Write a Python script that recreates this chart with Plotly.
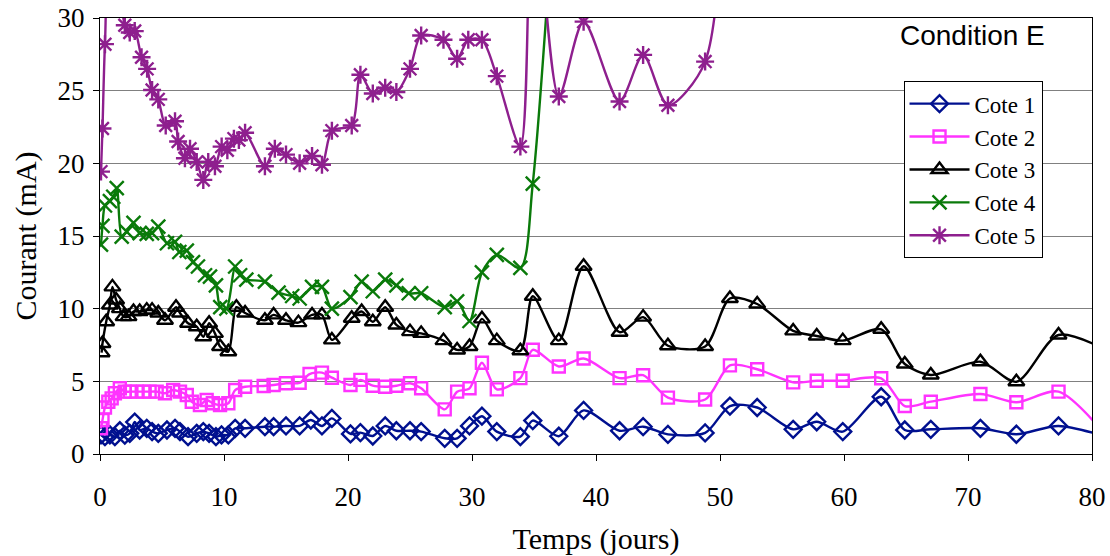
import plotly.graph_objects as go

# ---- Data ----
x_c1 = [0.08, 0.4, 0.8, 1.2, 1.6, 2.0, 2.4, 2.8, 3.2, 3.77, 4.2, 4.7, 5.4, 6.05, 6.45, 7.1, 7.8, 8.33, 8.8, 9.35, 9.8, 10.35, 10.9, 11.7,
        13.3, 14.0, 15.0, 16.1, 17.0, 17.9, 18.7, 20.2, 21.0, 22.0, 23.0, 23.9, 25.0, 25.9, 27.8, 28.8, 29.8, 30.8, 32.0,
        33.9, 34.9, 37.0, 39.0, 41.9, 43.8, 45.8, 48.8, 50.8, 53.0, 55.9, 57.8, 59.9, 63.0, 64.9, 67.0, 71.0, 73.9, 77.3, 81.5]
y_c1 = [1.31, 1.19, 1.31, 1.19, 1.6, 1.3, 1.42, 2.2, 1.65, 1.77, 1.54, 1.42, 1.65, 1.77, 1.54, 1.19, 1.42, 1.54, 1.42, 1.19, 1.31, 1.31, 1.77, 1.77,
        1.88, 1.88, 1.93, 1.93, 2.34, 1.93, 2.45, 1.38, 1.47, 1.24, 1.93, 1.6, 1.6, 1.54, 1.08, 1.08, 1.93, 2.6, 1.54,
        1.2, 2.3, 1.22, 3.0, 1.6, 1.88, 1.35, 1.45, 3.3, 3.2, 1.7, 2.22, 1.54, 3.94, 1.65, 1.7, 1.77, 1.36, 1.93, 1.1]

x_c2 = [0.08, 0.2, 0.4, 0.67, 0.94, 1.2, 1.6, 2.0, 2.4, 2.96, 3.5, 4.0, 4.57, 5.24, 5.9, 6.45, 7.0, 7.4, 8.06, 8.6, 9.1, 9.68, 10.35, 10.9, 11.7,
        13.2, 14.0, 15.0, 16.1, 16.9, 17.9, 18.7, 20.2, 21.0, 22.0, 23.0, 23.9, 25.0, 25.9, 27.8, 28.8, 29.8, 30.8, 32.0,
        33.9, 34.9, 37.0, 39.0, 41.9, 43.8, 45.8, 48.8, 50.8, 53.0, 55.9, 57.8, 59.9, 63.0, 64.9, 67.0, 71.0, 73.9, 77.3, 81.5]
y_c2 = [1.77, 2.34, 3.2, 3.6, 3.83, 4.18, 4.52, 4.29, 4.29, 4.29, 4.29, 4.29, 4.29, 4.18, 4.4, 4.29, 4.06, 3.6, 3.37, 3.72, 3.49, 3.37, 3.49, 4.4, 4.63,
        4.68, 4.75, 4.87, 4.9, 5.5, 5.6, 5.25, 4.75, 5.1, 4.7, 4.63, 4.7, 4.87, 4.52, 3.07, 4.29, 4.52, 6.28, 4.45,
        5.22, 7.17, 6.02, 6.57, 5.22, 5.42, 3.88, 3.75, 6.1, 5.83, 4.93, 5.04, 5.04, 5.21, 3.3, 3.6, 4.13, 3.56, 4.29, 0.9]

x_c3 = [0.13, 0.2, 0.5, 0.8, 1.0, 1.3, 1.6, 1.9, 2.3, 2.7, 3.2, 3.77, 4.2, 4.7, 5.24, 6.13, 6.45, 7.1, 7.8, 8.33, 8.8, 9.27, 9.68, 10.35, 11.0, 11.7,
        13.3, 14.0, 15.0, 16.0, 17.1, 17.9, 18.7, 20.3, 21.1, 22.0, 23.0, 23.9, 25.0, 25.9, 27.7, 28.8, 29.8, 30.8, 32.0,
        33.9, 34.9, 37.0, 39.0, 41.9, 43.8, 45.8, 48.8, 50.8, 53.0, 55.9, 57.8, 59.9, 63.0, 64.9, 67.0, 71.0, 73.9, 77.3, 81.5]
y_c3 = [6.97, 7.6, 9.1, 10.25, 11.5, 10.6, 10.0, 9.45, 9.45, 9.8, 9.8, 9.9, 9.9, 9.7, 9.2, 10.1, 9.7, 9.0, 8.76, 8.07, 9.0, 8.3, 7.4, 7.04, 10.1, 9.7,
        9.2, 9.57, 9.2, 9.04, 9.57, 9.57, 7.85, 9.34, 9.8, 9.1, 10.1, 8.88, 8.42, 8.3, 7.8, 7.16, 7.4, 9.3, 7.8,
        7.1, 10.85, 7.8, 12.92, 8.38, 9.42, 7.45, 7.4, 10.7, 10.32, 8.47, 8.12, 7.8, 8.58, 6.19, 5.44, 6.35, 4.97, 8.19, 7.0]

x_c4 = [0.08, 0.2, 0.4, 0.8, 1.07, 1.35, 1.75, 2.15, 2.7, 3.2, 3.77, 4.2, 4.7, 5.4, 6.05, 6.4, 7.0, 7.5, 7.9, 8.47, 8.87, 9.35, 9.7, 10.2, 10.9, 11.3, 11.8,
        13.3, 14.4, 15.5, 16.1, 17.1, 17.9, 18.7, 20.2, 21.1, 22.0, 23.0, 23.9, 24.9, 25.9, 27.8, 28.8, 29.8, 30.8, 32.0,
        33.9, 34.9, 37.0]
y_c4 = [14.4, 15.7, 17.1, 17.4, 17.7, 18.3, 14.96, 15.3, 15.9, 15.2, 15.14, 15.2, 15.64, 14.5, 14.6, 13.9, 14.0, 13.2, 12.9, 12.3, 12.2, 11.6, 10.1, 10.0, 12.9, 12.3, 12.0,
        11.86, 11.1, 10.87, 10.7, 11.5, 11.5, 10.0, 10.8, 11.86, 11.2, 12.0, 11.6, 11.06, 11.06, 10.1, 10.5, 9.15, 12.5, 13.7,
        12.8, 18.6, 43.0]

x_c5 = [0.08, 0.2, 0.4, 0.8, 1.4, 2.0, 2.4, 2.8, 3.35, 3.8, 4.2, 4.7, 5.3, 6.05, 6.3, 6.85, 7.26, 7.8, 8.33, 8.73, 9.27, 9.81, 10.27, 10.8, 11.2, 11.7,
        13.3, 14.1, 15.0, 16.1, 17.1, 17.9, 18.7, 20.3, 21.0, 22.0, 23.0, 23.9, 25.0, 25.9, 27.7, 28.8, 29.7, 30.8, 32.0,
        33.9, 34.9, 37.0, 39.0, 41.9, 43.8, 45.8, 48.8, 50.8]
y_c5 = [19.43, 22.4, 28.2, 33.5, 33.0, 29.5, 29.0, 29.1, 27.3, 26.5, 25.05, 24.4, 22.6, 22.9, 21.5, 20.35, 21.0, 20.1, 18.86, 20.1, 19.8, 21.15, 20.9, 21.7, 21.6, 22.1,
        19.8, 21.0, 20.6, 20.0, 20.5, 19.9, 22.25, 22.6, 26.1, 24.8, 25.2, 24.9, 26.5, 28.8, 28.5, 27.2, 28.5, 28.5, 26.0,
        21.15, 40.0, 24.6, 29.75, 24.25, 27.46, 24.0, 27.0, 60.0]

series = [
    ("Cote 1", x_c1, y_c1, "#00108f", "diamond-open", 13),
    ("Cote 2", x_c2, y_c2, "#ff33ff", "square-open", 12),
    ("Cote 3", x_c3, y_c3, "#000000", "triangle-up-open", 14),
    ("Cote 4", x_c4, y_c4, "#0a7a0a", "x-thin-open", 14),
    ("Cote 5", x_c5, y_c5, "#8e1f8e", "asterisk-open", 15),
]

fig = go.Figure()
for name, xs, ys, col, sym, sz in series:
    fig.add_trace(go.Scatter(
        x=xs, y=ys, name=name, mode="lines+markers",
        line=dict(color=col, width=2.4, shape="spline", smoothing=0.8),
        marker=dict(symbol=sym, size=sz, color=col, line=dict(color=col, width=2.4)),
    ))

serif = "Liberation Serif, Times New Roman, serif"
fig.update_layout(
    width=1110, height=556,
    margin=dict(l=100, r=18, t=18, b=102),
    paper_bgcolor="white", plot_bgcolor="white",
    font=dict(family=serif, size=24, color="black"),
    showlegend=True,
    legend=dict(x=0.81, y=0.855, xanchor="left", yanchor="top",
                bgcolor="white", bordercolor="black", borderwidth=1,
                font=dict(family=serif, size=23, color="black"),
                itemwidth=60, tracegroupgap=0),
    annotations=[dict(text="Condition E", x=0.88, y=1.0, xref="paper", yref="paper",
                      xanchor="center", yanchor="top", showarrow=False,
                      font=dict(family="Liberation Sans, Arial, sans-serif", size=28, color="black"))],
)
fig.update_xaxes(range=[0, 80], dtick=10, tick0=0, showgrid=False, zeroline=False, automargin=False,
                 showline=True, linecolor="black", linewidth=1, mirror=True,
                 ticks="outside", ticklen=6, tickcolor="black",
                 ticklabelstandoff=13, tickfont=dict(family=serif, size=27),
                 title=dict(text="Temps (jours)", font=dict(family=serif, size=30), standoff=16))
fig.update_yaxes(range=[0, 30], dtick=5, tick0=0, showgrid=True, gridcolor="#808080", gridwidth=1,
                 zeroline=False, automargin=False, showline=True, linecolor="black", linewidth=1, mirror=True,
                 ticks="outside", ticklen=6, tickcolor="black",
                 ticklabelstandoff=3, tickfont=dict(family=serif, size=27),
                 title=dict(text="Courant (mA)", font=dict(family=serif, size=30), standoff=12))

fig.write_html("out.html", config={"displayModeBar": False},
               post_script="document.body.style.margin='0';document.body.style.padding='0';")
